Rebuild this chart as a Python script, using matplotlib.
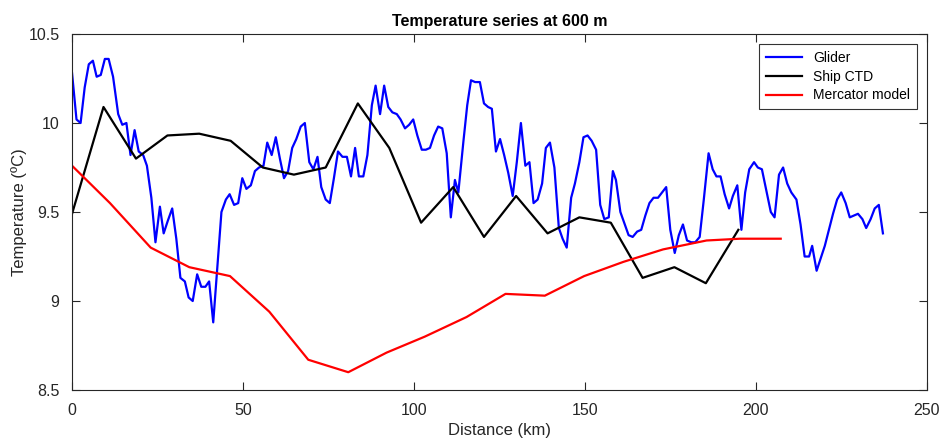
import matplotlib.pyplot as plt
from matplotlib.ticker import FuncFormatter

plt.rcParams['font.family'] = ['Liberation Sans', 'DejaVu Sans']

# glider track: distance (km) and temperature (degC)
glider_km = [0.0, 1.3, 2.5, 3.7, 4.9, 6.1, 7.2, 8.4, 9.6, 10.7, 12.0, 13.5, 14.7, 15.9,
             17.1, 18.3, 19.5, 20.8, 21.9, 23.2, 24.4, 25.7, 26.8, 28.0, 29.3, 30.5, 31.7,
             33.0, 34.1, 35.3, 36.6, 37.8, 39.0, 40.1, 41.3, 43.7, 45.0, 46.1, 47.4, 48.6,
             49.8, 51.0, 52.3, 53.5, 54.7, 56.0, 57.1, 58.4, 59.6, 60.8, 62.0, 63.2, 64.4,
             65.6, 66.9, 68.1, 69.4, 70.6, 71.8, 72.9, 74.2, 75.4, 76.6, 77.8, 79.1, 80.4,
             81.6, 82.8, 83.9, 85.2, 86.4, 87.7, 88.8, 90.1, 91.3, 92.5, 93.7, 95.0, 96.1,
             97.4, 98.6, 99.8, 101.0, 102.3, 103.5, 104.7, 105.9, 107.1, 108.3, 109.6, 110.8,
             112.0, 113.0, 114.5, 115.6, 116.7, 117.9, 119.3, 120.5, 121.7, 122.8, 124.0,
             125.2, 126.4, 127.6, 128.9, 130.1, 131.3, 132.6, 133.8, 135.0, 136.2, 137.5,
             138.6, 139.8, 141.1, 142.4, 143.5, 144.7, 146.0, 147.1, 148.4, 149.6, 150.8,
             152.0, 153.3, 154.5, 155.7, 157.0, 158.2, 159.1, 160.4, 161.5, 162.8, 164.0,
             165.3, 166.5, 167.7, 168.9, 170.1, 171.4, 172.6, 173.8, 175.0, 176.3, 177.5,
             178.7, 179.9, 181.1, 182.3, 183.6, 184.8, 186.2, 187.4, 188.5, 189.7, 190.9,
             192.2, 193.3, 194.6, 195.8, 196.9, 198.1, 199.5, 200.6, 201.8, 203.1, 204.4,
             205.5, 206.8, 208.0, 209.2, 210.4, 211.9, 213.1, 214.3, 215.6, 216.5, 217.8,
             219.0, 220.2, 221.4, 222.6, 223.8, 225.0, 226.3, 227.5, 228.7, 229.9, 231.2,
             232.3, 233.6, 234.8, 236.0, 237.2]
glider_t = [10.28, 10.02, 10.00, 10.20, 10.33, 10.35, 10.26, 10.27, 10.36, 10.36, 10.26,
            10.05, 9.99, 10.00, 9.82, 9.96, 9.84, 9.82, 9.76, 9.58, 9.33, 9.53, 9.38, 9.45,
            9.52, 9.35, 9.13, 9.11, 9.02, 9.00, 9.15, 9.08, 9.08, 9.11, 8.88, 9.50, 9.57,
            9.60, 9.54, 9.55, 9.69, 9.63, 9.65, 9.73, 9.75, 9.76, 9.89, 9.82, 9.92, 9.80,
            9.69, 9.73, 9.86, 9.91, 9.98, 10.00, 9.78, 9.74, 9.81, 9.64, 9.57, 9.55, 9.69,
            9.84, 9.81, 9.81, 9.70, 9.86, 9.70, 9.70, 9.82, 10.10, 10.21, 10.05, 10.21,
            10.09, 10.06, 10.05, 10.02, 9.97, 9.99, 10.02, 9.93, 9.85, 9.85, 9.86, 9.93,
            9.98, 9.97, 9.83, 9.47, 9.68, 9.61, 9.90, 10.10, 10.24, 10.23, 10.23, 10.11,
            10.09, 10.08, 9.84, 9.91, 9.82, 9.72, 9.59, 9.78, 10.00, 9.76, 9.78, 9.55, 9.57,
            9.66, 9.86, 9.89, 9.75, 9.41, 9.35, 9.30, 9.58, 9.66, 9.78, 9.92, 9.93, 9.90,
            9.85, 9.54, 9.46, 9.47, 9.73, 9.68, 9.50, 9.44, 9.37, 9.36, 9.39, 9.40, 9.48,
            9.55, 9.58, 9.58, 9.61, 9.64, 9.40, 9.27, 9.37, 9.43, 9.34, 9.33, 9.33, 9.36,
            9.57, 9.83, 9.74, 9.70, 9.70, 9.60, 9.52, 9.59, 9.65, 9.40, 9.61, 9.74, 9.78,
            9.75, 9.74, 9.62, 9.50, 9.47, 9.71, 9.75, 9.66, 9.61, 9.57, 9.43, 9.25, 9.25,
            9.31, 9.17, 9.24, 9.31, 9.40, 9.49, 9.57, 9.61, 9.55, 9.47, 9.48, 9.49, 9.46,
            9.41, 9.46, 9.52, 9.54, 9.38]

# ship CTD stations
ctd_km = [0.0, 9.2, 18.7, 27.9, 37.2, 46.4, 55.8, 64.9, 74.2, 83.6, 92.8, 102.1,
          111.5, 120.5, 129.9, 139.1, 148.4, 157.6, 166.9, 176.2, 185.4, 194.9]
ctd_t = [9.49, 10.09, 9.80, 9.93, 9.94, 9.90, 9.75, 9.71, 9.75, 10.11, 9.86, 9.44,
         9.64, 9.36, 9.59, 9.38, 9.47, 9.44, 9.13, 9.19, 9.10, 9.40]

# Mercator model section
model_km = [0.0, 11.1, 23.0, 34.3, 46.2, 57.7, 69.1, 80.8, 92.0, 103.2, 115.4, 126.8,
            138.3, 149.8, 161.3, 172.9, 185.6, 195.4, 207.3]
model_t = [9.76, 9.55, 9.30, 9.19, 9.14, 8.94, 8.67, 8.60, 8.71, 8.80, 8.91, 9.04,
           9.03, 9.14, 9.22, 9.29, 9.34, 9.35, 9.35]

xticks = [0, 50, 100, 150, 200, 250]
yticks = [8.5, 9, 9.5, 10, 10.5]

fig = plt.figure(figsize=(9.43, 4.44), dpi=100)
ax = fig.add_axes([0.0764, 0.1216, 0.9063, 0.8018])

ax.plot(glider_km, glider_t, color='#0000ff', lw=1.6, label='Glider')
ax.plot(ctd_km, ctd_t, color='k', lw=1.6, label='Ship CTD')
ax.plot(model_km, model_t, color='#ff0000', lw=1.6, label='Mercator model')

ax.set_xlim(0, 250)
ax.set_ylim(8.5, 10.5)
ax.set_xticks(xticks)
ax.set_yticks(yticks)
ax.yaxis.set_major_formatter(FuncFormatter(lambda v, p: '%g' % v))

grey = '#262626'
ax.tick_params(direction='in', length=6, width=0.8, top=True, right=True,
               labelsize=11.5, colors=grey)
ax.tick_params(axis='y', pad=9)
ax.tick_params(axis='x', pad=9)
for s in ax.spines.values():
    s.set_color(grey)
    s.set_linewidth(0.8)

ax.set_title('Temperature series at 600 m', fontsize=11.5, fontweight='bold', pad=6)
ax.set_xlabel('Distance (km)', fontsize=12, color=grey, labelpad=4)
ax.set_ylabel('Temperature (ºC)', fontsize=12, color=grey, labelpad=1)

leg = ax.legend(loc='upper right', fontsize=10, frameon=True, fancybox=False,
                edgecolor='k', handlelength=2.6, borderaxespad=0.7,
                labelspacing=0.35, borderpad=0.5)
leg.get_frame().set_linewidth(0.8)

fig.savefig('out.png', dpi=100)
